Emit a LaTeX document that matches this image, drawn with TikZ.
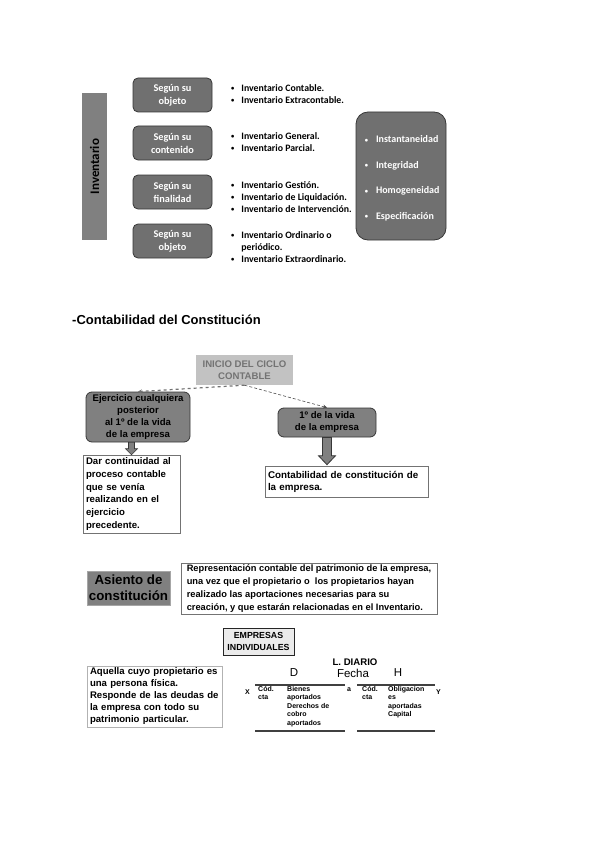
\documentclass[tikz,border=0pt]{standalone}
\usepackage{fontspec}
\setmainfont{Liberation Sans}
\newfontfamily\calfont{Carlito}
\usetikzlibrary{calc,arrows.meta,shadows}
\definecolor{boxgray}{RGB}{112,112,112}
\definecolor{midgray}{RGB}{128,128,128}
\definecolor{ltgray}{RGB}{194,194,194}
\definecolor{edgegray}{RGB}{55,55,55}
\newcommand\mybul{\raisebox{0.6pt}{\fontsize{6.5}{6.5}\selectfont•}}
\hyphenpenalty=10000
\begin{document}
\begin{tikzpicture}[x=1pt,y=-1pt,
  catbox/.style={draw=edgegray, fill=boxgray, rounded corners=5pt, minimum width=79pt, minimum height=34pt,
    text=white, font=\calfont\bfseries\fontsize{10.3}{13}\selectfont, align=center, line width=0.8pt, inner sep=0pt},
  blist/.style={anchor=west, font=\calfont\bfseries\fontsize{9.8}{12}\selectfont, inner sep=0pt, align=left},
  grbox/.style={draw=edgegray, fill=midgray, rounded corners=6pt, font=\bfseries\fontsize{9.6}{12}\selectfont,
    align=center, inner sep=0pt, line width=0.8pt},
  whitebox/.style={draw=black!55, fill=white, line width=0.6pt, inner xsep=3pt, inner ysep=0pt, align=left,
    drop shadow={shadow xshift=1pt, shadow yshift=-1pt, fill=black!25}},
  blockarr/.style={draw=edgegray, fill=midgray, line width=0.8pt},
  tabline/.style={line width=1.3pt, black!75},
  tabtxt/.style={font=\bfseries\fontsize{7}{8.5}\selectfont, anchor=north west, align=left, inner sep=0pt}
]
\useasboundingbox (0,0) rectangle (600,848);

% ---------------- Inventario ----------------
\node[fill=midgray, minimum width=147pt, minimum height=25pt, rotate=90, inner sep=0pt,
  font=\calfont\bfseries\fontsize{13}{15}\selectfont] (inv) at (94.5,166.5) {Inventario};

\node[catbox] (o1) at (172.5,95) {Según su\\objeto};
\node[catbox] (o2) at (172.5,143) {Según su\\contenido};
\node[catbox] (o3) at (172.5,192) {Según su\\finalidad};
\node[catbox] (o4) at (172.5,241) {Según su\\objeto};

\node[blist] (l1) at (231,95) {\begin{tabular}{@{}l@{\hspace{7pt}}l@{}}\mybul&Inventario Contable.\\\mybul&Inventario Extracontable.\end{tabular}};
\node[blist] (l2) at (231,143) {\begin{tabular}{@{}l@{\hspace{7pt}}l@{}}\mybul&Inventario General.\\\mybul&Inventario Parcial.\end{tabular}};
\node[blist] (l3) at (231,198) {\begin{tabular}{@{}l@{\hspace{7pt}}l@{}}\mybul&Inventario Gestión.\\\mybul&Inventario de Liquidación.\\\mybul&Inventario de Intervención.\end{tabular}};
\node[blist] (l4) at (231,248) {\begin{tabular}{@{}l@{\hspace{7pt}}l@{}}\mybul&Inventario Ordinario o\\&periódico.\\\mybul&Inventario Extraordinario.\end{tabular}};

\node[catbox, minimum width=90pt, minimum height=128pt, rounded corners=12pt] (props) at (401,176) {};
\node[blist, text=white, font=\calfont\bfseries\fontsize{10}{25.5}\selectfont] (plist) at ($(props.west)+(9,0)$)
  {\begin{tabular}{@{}l@{\hspace{8pt}}l@{}}\mybul&Instantaneidad\\\mybul&Integridad\\\mybul&Homogeneidad\\\mybul&Especificación\end{tabular}};

% ---------------- Contabilidad ----------------
\node[anchor=west, inner sep=0pt, font=\bfseries\fontsize{13}{15}\selectfont] (hdr) at (72,320) {-Contabilidad del Constitución};

\node[fill=ltgray, text=black!55, font=\bfseries\fontsize{9.6}{12}\selectfont, minimum width=97pt, minimum height=30pt,
  align=center, inner sep=0pt] (ini) at (244.5,370) {INICIO DEL CICLO\\CONTABLE};

\node[grbox, minimum width=104pt, minimum height=50pt] (ej) at (138,417)
  {Ejercicio cualquiera\\posterior\\al 1º de la vida\\de la empresa};
\node[grbox, minimum width=98pt, minimum height=29pt] (rb) at (327,422.5) {1º de la vida\\de la empresa};

\draw[line width=1.2pt, black!55, dashed, -{Stealth[length=4pt,width=4pt]}] (ini.south) -- (ej.north);
\draw[line width=0.6pt, black!70, densely dashed, -{Stealth[length=4pt,width=4pt]}] (ini.south) -- (rb.north);

\node[whitebox, text width=157pt, minimum height=31pt, font=\bfseries\fontsize{9.8}{12}\selectfont] (cc) at (346.5,481.5)
  {Contabilidad de constitución de\\la empresa.};
\node[whitebox, text width=91pt, minimum height=78pt, font=\bfseries\fontsize{9.6}{12.8}\selectfont] (dc) at (131.5,494)
  {Dar continuidad al\\proceso contable\\que se venía\\realizando en el\\ejercicio\\precedente.};

\draw[blockarr] let \p1=(rb.south), \p2=(cc.north) in
  (\x1-4.5pt,\y1) -- (\x1+4.5pt,\y1) -- (\x1+4.5pt,\y2+10pt) -- (\x1+8.5pt,\y2+10pt) -- (\x1,\y2+1pt)
  -- (\x1-8.5pt,\y2+10pt) -- (\x1-4.5pt,\y2+10pt) -- cycle;
\draw[blockarr, line width=0.6pt] let \p1=(ej.south), \p2=(dc.north) in
  (\x2-3pt,\y1) -- (\x2+3pt,\y1) -- (\x2+3pt,\y2+6pt) -- (\x2+6pt,\y2+6pt) -- (\x2,\y2)
  -- (\x2-6pt,\y2+6pt) -- (\x2-3pt,\y2+6pt) -- cycle;

% ---------------- Asiento ----------------
\node[fill=midgray, draw=black!35, font=\bfseries\fontsize{13.3}{16}\selectfont, minimum width=83pt, minimum height=34pt,
  align=center, inner sep=0pt] (as) at (128.5,588) {Asiento de\\constitución};
\node[whitebox, minimum width=256pt, minimum height=51pt, font=\bfseries\fontsize{9.3}{12.7}\selectfont] (rep) at (309,588.5)
  {Representación contable del patrimonio de la empresa,\\una vez que el propietario o\ \ los propietarios hayan\\realizado las aportaciones necesarias para su\\creación, y que estarán relacionadas en el Inventario.};

% ---------------- Empresas individuales ----------------
\node[draw=black!85, fill=black!8, line width=0.8pt, font=\bfseries\fontsize{8.8}{12}\selectfont, minimum width=71pt,
  minimum height=27pt, align=center, inner sep=0pt] (emp) at (258.5,641.5) {EMPRESAS\\INDIVIDUALES};
\node[whitebox, draw=black!30, text width=129pt, minimum height=61pt, font=\bfseries\fontsize{9.6}{12}\selectfont] (aq) at (154.5,696.5)
  {Aquella cuyo propietario es\\una persona física.\\Responde de las deudas de\\la empresa con todo su\\patrimonio particular.};

\node[font=\bfseries\fontsize{9.6}{10}\selectfont, inner sep=0pt] (ld) at (355,662) {L. DIARIO};
\node[font=\fontsize{11.5}{12}\selectfont, inner sep=0pt] (dD) at (294,673) {D};
\node[font=\fontsize{11.5}{12}\selectfont, inner sep=0pt] (fe) at (353,673) {Fecha};
\node[font=\fontsize{11.5}{12}\selectfont, inner sep=0pt] (dH) at (398,673) {H};

\coordinate (t1a) at (255,685); \coordinate (t1b) at (345,685);
\coordinate (t2a) at (357,685); \coordinate (t2b) at (435,685);
\coordinate (b1a) at (255,731); \coordinate (b1b) at (345,731);
\coordinate (b2a) at (357,731); \coordinate (b2b) at (435,731);
\draw[tabline] (t1a) -- (t1b);
\draw[tabline] (t2a) -- (t2b);
\draw[tabline] (b1a) -- (b1b);
\draw[tabline] (b2a) -- (b2b);

\node[tabtxt, anchor=west] (xx) at (245,692) {X};
\node[tabtxt] (cod1) at (258,686) {Cód.\\cta};
\node[tabtxt] (bien) at (287,686) {Bienes\\aportados\\Derechos de\\cobro\\aportados};
\node[tabtxt, anchor=west] (aa) at (347,690) {a};
\node[tabtxt] (cod2) at (362,686) {Cód.\\cta};
\node[tabtxt] (obl) at (388,686) {Obligacion\\es\\aportadas\\Capital};
\node[tabtxt, anchor=west] (yy) at (436,692) {Y};
\end{tikzpicture}
\end{document}
